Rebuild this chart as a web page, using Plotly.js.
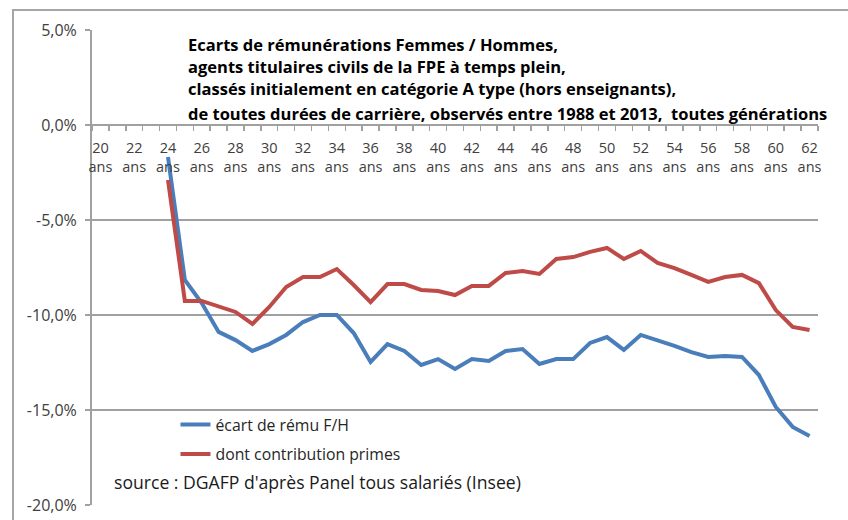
<!DOCTYPE html>
<html>
<head>
<meta charset="utf-8">
<script src="https://cdn.plot.ly/plotly-3.0.1.min.js"></script>
<style>
  html, body { margin: 0; padding: 0; background: #ffffff; }
  #wrap { position: relative; width: 848px; height: 520px; overflow: hidden; }
  #chart { width: 848px; height: 520px; }
  #frame { position: absolute; left: 12px; top: 9px; width: 900px; height: 600px;
           border: 2px solid #a6a6a6; pointer-events: none; }
</style>
</head>
<body>
<div id="wrap">
  <div id="chart"></div>
  <div id="frame"></div>
</div>
<script>
// Ages (years)
const ages = [20,21,22,23,24,25,26,27,28,29,30,31,32,33,34,35,36,37,38,39,40,41,42,43,44,45,46,47,48,49,50,51,52,53,54,55,56,57,58,59,60,61,62];

// écart de rému F/H (%), no data before 24 ans
const ecartRemu = [null,null,null,null,
  -1.68,-8.16,-9.37,-10.89,-11.32,-11.89,-11.53,-11.05,-10.37,-10.0,-10.0,-10.95,-12.47,-11.53,-11.89,-12.63,
  -12.32,-12.84,-12.32,-12.42,-11.89,-11.79,-12.58,-12.32,-12.32,-11.47,-11.16,-11.84,-11.05,-11.32,-11.63,
  -11.95,-12.21,-12.16,-12.21,-13.16,-14.84,-15.89,-16.37];

// dont contribution primes (%)
const contribPrimes = [null,null,null,null,
  -2.89,-9.26,-9.26,-9.53,-9.84,-10.47,-9.58,-8.53,-8.0,-8.0,-7.58,-8.42,-9.32,-8.37,-8.37,-8.68,
  -8.74,-8.95,-8.47,-8.47,-7.79,-7.68,-7.84,-7.05,-6.95,-6.68,-6.47,-7.05,-6.63,-7.26,-7.53,
  -7.89,-8.26,-8.0,-7.89,-8.32,-9.74,-10.63,-10.79];

const seriesNames = ["écart de rému F/H", "dont contribution primes"];

const yTickVals = [5, 0, -5, -10, -15, -20];
const yTickText = ["5,0%", "0,0%", "-5,0%", "-10,0%", "-15,0%", "-20,0%"];

const xTickVals = ages.filter(a => a % 2 === 0);
const xTickText = xTickVals.map(a => a + "<br>ans");

const titleLines = [
  "Ecarts de rémunérations Femmes / Hommes,",
  "agents titulaires civils de la FPE à temps plein,",
  "classés initialement en catégorie A type (hors enseignants),",
  "de toutes durées de carrière, observés entre 1988 et 2013,  toutes générations"
];
const sourceText = "source : DGAFP d'après Panel tous salariés (Insee)";

const FONT = "'Open Sans', 'Noto Sans', sans-serif";
const GRID = "#a0a0a0";

const traces = [
  { x: ages, y: ecartRemu, name: seriesNames[0], type: "scatter", mode: "lines",
    line: { color: "#4A7EBB", width: 4 }, legendgroup: "a" },
  { x: ages, y: contribPrimes, name: seriesNames[1], type: "scatter", mode: "lines",
    line: { color: "#BE4B48", width: 4 }, legendgroup: "b" }
];

const titleY = [0.9705, 0.924, 0.876, 0.825];
const annotations = titleLines.map((t, i) => ({
  text: "<b>" + t + "</b>", xref: "paper", yref: "paper", x: 0.13, y: titleY[i],
  xanchor: "left", yanchor: "middle", showarrow: false,
  font: { family: FONT, size: 16.5, color: "#000000" }
}));
annotations.push({
  text: sourceText, xref: "paper", yref: "paper", x: 0.0275, y: 0.048,
  xanchor: "left", yanchor: "middle", showarrow: false,
  font: { family: FONT, size: 17.6, color: "#1a1a1a" }
});

const layout = {
  width: 848, height: 520,
  margin: { l: 92, r: 30, t: 30, b: 15 },
  paper_bgcolor: "#ffffff", plot_bgcolor: "#ffffff",
  showlegend: true,
  legend: { x: 0.115, y: 0.205, xanchor: "left", yanchor: "top",
            traceorder: "grouped", tracegroupgap: 6,
            bgcolor: "rgba(0,0,0,0)", font: { family: FONT, size: 15.8, color: "#262626" } },
  xaxis: {
    type: "linear", range: [19.5, 62.5], anchor: "free", position: 0.8,
    showgrid: false, zeroline: false, showline: true, linecolor: GRID, linewidth: 2,
    tickmode: "array", tickvals: xTickVals, ticktext: xTickText, ticks: "",
    tickangle: 0,
    tickfont: { family: FONT, size: 14.5, color: "#404040" },
    ticklabelstandoff: 10,
    minor: { tickmode: "linear", tick0: 19.5, dtick: 1, ticks: "outside", ticklen: 5,
             tickwidth: 1.5, tickcolor: GRID, showgrid: false }
  },
  yaxis: {
    range: [-20, 5], tickmode: "array", tickvals: yTickVals, ticktext: yTickText,
    showgrid: true, gridcolor: GRID, gridwidth: 2, zeroline: false,
    showline: true, linecolor: GRID, linewidth: 2,
    ticks: "outside", ticklen: 5, tickwidth: 2, tickcolor: GRID,
    ticklabelstandoff: 5,
    tickfont: { family: FONT, size: 16, color: "#404040" }
  },
  annotations: annotations
};

Plotly.newPlot("chart", traces, layout, { displayModeBar: false, staticPlot: true });
</script>
</body>
</html>
